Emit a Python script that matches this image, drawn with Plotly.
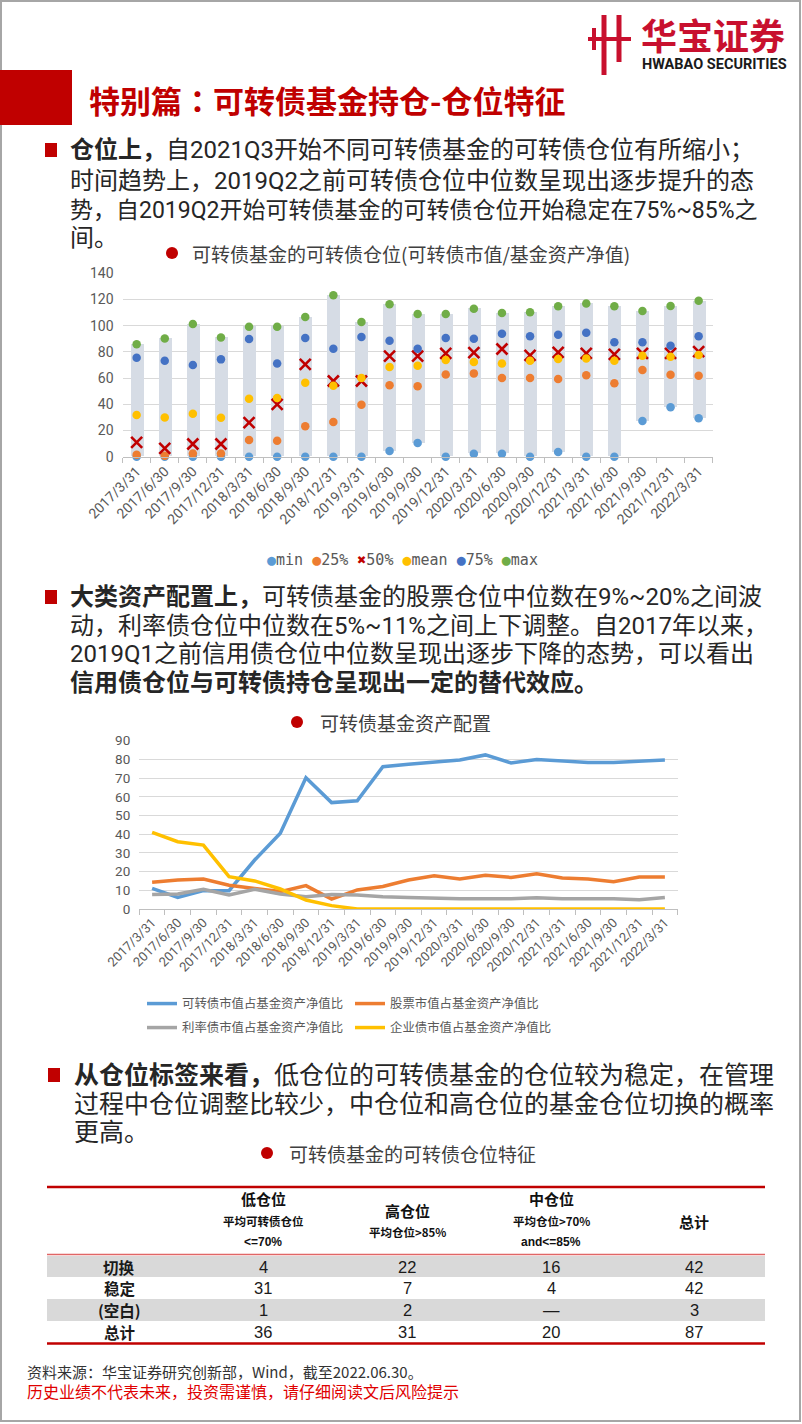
import plotly.graph_objects as go

W, H = 802, 1424
def fx(x): return x / W
def fy(y): return 1 - y / H

# ---------------- data ----------------
dates = ['2017/3/31', '2017/6/30', '2017/9/30', '2017/12/31', '2018/3/31', '2018/6/30',
         '2018/9/30', '2018/12/31', '2019/3/31', '2019/6/30', '2019/9/30', '2019/12/31',
         '2020/3/31', '2020/6/30', '2020/9/30', '2020/12/31', '2021/3/31', '2021/6/30',
         '2021/9/30', '2021/12/31', '2022/3/31']

pos_min = [0, 0, 0, 0, 0, 0, 0, 0, 0, 4.3, 10.4, 0, 2.3, 2.3, 0, 3.6, 0, 0, 27.2, 37.7, 29.3]
pos_p25 = [1.5, 0.8, 2.5, 2.5, 12.7, 12.2, 23.2, 26.5, 39.7, 54.5, 53.7, 62.8, 63.6, 60, 60, 59.3, 62.1, 56, 66.2, 62.6, 61.8]
pos_p50 = [10.9, 6.4, 9.7, 9.7, 26, 40, 70.5, 57.8, 57.8, 76.8, 76.8, 78.9, 79.4, 82.2, 77.4, 79.6, 78.9, 78.1, 78.9, 78.9, 80.2]
pos_mean = [31.8, 30, 32.8, 29.8, 44.3, 44.8, 56.5, 54.2, 60, 68.4, 69.5, 73.8, 72.3, 71.2, 73.3, 74.6, 75, 73.3, 77.1, 76.3, 77.6]
pos_p75 = [75.6, 73.3, 70, 74.3, 89.8, 71.2, 90.6, 82.4, 91.3, 88.5, 82.4, 90.6, 90, 93.9, 91.9, 93.1, 94.7, 87.3, 87.3, 84.7, 91.9]
pos_max = [85.8, 90.3, 101.3, 91, 99.2, 99.2, 106.6, 123.2, 102.8, 116.3, 108.9, 108.9, 113, 109.7, 110.2, 114.8, 117, 114.8, 111.2, 115, 119]

cb_ratio = [11, 6.2, 9.8, 9.8, 26.2, 40.5, 70.2, 56.9, 57.9, 76.1, 77.4, 78.4, 79.7, 82.4, 78.1, 80, 79, 78.4, 78.4, 79.1, 79.7]
stock_ratio = [14.3, 15.5, 16, 12.7, 11, 9.3, 12.5, 5.3, 10.2, 12, 15.5, 17.8, 16, 18, 16.9, 18.9, 16.6, 16, 14.6, 17.1, 17.1]
rate_ratio = [7.7, 8, 10.5, 7.5, 10.5, 8, 6.6, 7.8, 7.5, 6.6, 6.2, 5.7, 5.5, 5.5, 5.5, 6, 5.5, 5.5, 5.5, 5, 6.2]
corp_ratio = [41, 36, 34.2, 17.3, 15, 10.7, 4.8, 1.8, 0, 0, 0, 0, 0, 0, 0, 0, 0, 0, 0, 0, 0]

tbl_rows = ['切换', '稳定', '(空白)', '总计']
tbl_low = [4, 31, 1, 36]
tbl_high = [22, 7, 2, 31]
tbl_mid = [16, 4, '—', 20]
tbl_total = [42, 42, 3, 87]
tbl_head = ['', '低仓位', '高仓位', '中仓位', '总计']
tbl_sub1 = ['', '平均可转债仓位', '平均仓位&gt;85%', '平均仓位&gt;70%', '']
tbl_sub2 = ['', '&lt;=70%', '', 'and&lt;=85%', '']

# ---------------- styles ----------------
RED = '#c00000'
TXT = '#262626'
AX = '#595959'
CJK = 'Noto Sans CJK SC'
PARA = 'Roboto, Noto Sans CJK SC'

fig = go.Figure()

# ---------- chart 1 ----------
fig.add_trace(go.Bar(x=dates, y=[b - a for a, b in zip(pos_min, pos_max)], base=pos_min,
                     width=0.46, marker=dict(color='#d6dce5', line=dict(width=0)),
                     showlegend=False, hoverinfo='skip', xaxis='x', yaxis='y'))
series1 = [('min', pos_min, '#5b9bd5'), ('25%', pos_p25, '#ed7d31'), ('50%', pos_p50, RED),
           ('mean', pos_mean, '#ffc000'), ('75%', pos_p75, '#4472c4'), ('max', pos_max, '#70ad47')]
for name, vals, col in series1:
    if name == '50%':
        mk = dict(symbol='x-thin-open', size=11, color=col, line=dict(color=col, width=2.6))
    else:
        mk = dict(symbol='circle', size=8.5, color=col, line=dict(width=0))
    fig.add_trace(go.Scatter(x=dates, y=vals, mode='markers', marker=mk, name=name,
                             showlegend=False, cliponaxis=False, xaxis='x', yaxis='y'))

# ---------- chart 2 ----------
series2 = [('可转债市值占基金资产净值比', cb_ratio, '#5b9bd5', 'legend2'),
           ('股票市值占基金资产净值比', stock_ratio, '#ed7d31', 'legend2'),
           ('利率债市值占基金资产净值比', rate_ratio, '#a5a5a5', 'legend3'),
           ('企业债市值占基金资产净值比', corp_ratio, '#ffc000', 'legend3')]
for name, vals, col, lg in series2:
    fig.add_trace(go.Scatter(x=dates, y=vals, mode='lines', name=name,
                             line=dict(color=col, width=3.5), legend=lg,
                             cliponaxis=False, xaxis='x2', yaxis='y2'))

# ---------------- annotations ----------------
ann = []
def text(x, y, s, size, color=TXT, family=CJK, xanchor='left', bold=False, align=None):
    ann.append(dict(x=fx(x), y=fy(y), xref='paper', yref='paper', text=s, showarrow=False,
                    xanchor=xanchor, yanchor='middle', align=align or (xanchor if xanchor != 'auto' else 'center'),
                    font=dict(size=size, color=color, family=family, weight='bold' if bold else 'normal')))

# header
text(87, 99, '特别篇<span style="font-family:Noto Sans CJK JP">：</span>可转债基金持仓-仓位特征', 31, color=RED, bold=True)
text(639, 34.5, '华宝证券', 36, color='#c8102e', bold=True)
text(640, 65, 'HWABAO SECURITIES', 14.5, color='#1a1a1a', family='Roboto', bold=True)

# paragraphs
p1 = ['<b>仓位上，</b>自2021Q3开始不同可转债基金的可转债仓位有所缩小；',
      '时间趋势上，2019Q2之前可转债仓位中位数呈现出逐步提升的态',
      '势，自2019Q2开始可转债基金的可转债仓位开始稳定在75%~85%之',
      '间。']
for s, y, sz in zip(p1, [150, 181, 210, 238], [24, 24, 23, 24]):
    text(68, y, s, sz, family=PARA)
p2 = ['<b>大类资产配置上，</b>可转债基金的股票仓位中位数在9%~20%之间波',
      '动，利率债仓位中位数在5%~11%之间上下调整。自2017年以来，',
      '2019Q1之前信用债仓位中位数呈现出逐步下降的态势，可以看出',
      '<b>信用债仓位与可转债持仓呈现出一定的替代效应。</b>']
for s, y in zip(p2, [597, 626, 654, 683]):
    text(68, y, s, 24, family=PARA)
p3 = ['<b>从仓位标签来看，</b>低仓位的可转债基金的仓位较为稳定，在管理',
      '过程中仓位调整比较少，中仓位和高仓位的基金仓位切换的概率',
      '更高。']
for s, y in zip(p3, [1075, 1104, 1132]):
    text(72, y, s, 25, family=PARA)

# chart titles
text(190, 253, '可转债基金的可转债仓位(可转债市值/基金资产净值)', 19, color='#404040')
text(318, 722, '可转债基金资产配置', 19, color='#404040')
text(287, 1153, '可转债基金的可转债仓位特征', 19, color='#404040')

# chart 1 legend
marks = {'50%': '✖'}
leg_parts = []
for name, vals, col in series1:
    leg_parts.append("<span style='color:%s'>%s</span>%s" % (col, marks.get(name, '●'), name))
text(403, 560, ' '.join(leg_parts), 15, color=AX, family='DejaVu Sans Mono', xanchor='center')

# table header
cols_x = [119, 263, 407, 551, 694]
for cx, h, s1, s2 in zip(cols_x, tbl_head, tbl_sub1, tbl_sub2):
    if not h:
        continue
    if s2:
        ys = [1198, 1221, 1242]
    elif s1:
        ys = [1210, 1232]
    else:
        ys = [1221]
    text(cx, ys[0], h, 15, color='#111', xanchor='center', bold=True)
    if s1:
        text(cx, ys[1], s1, 11.5, color='#111', xanchor='center', bold=True)
    if s2:
        text(cx, ys[2], s2, 12, color='#111', family='Liberation Sans', xanchor='center', bold=True)

# table body
row_y = [1266.5, 1288, 1310, 1331.5]
columns = [tbl_rows, tbl_low, tbl_high, tbl_mid, tbl_total]
for ci, (cx, colvals) in enumerate(zip(cols_x, columns)):
    for ry, v in zip(row_y, colvals):
        if ci == 0:
            text(cx, ry, str(v), 15.5, color='#1a1a1a', xanchor='center', bold=True)
        else:
            text(cx, ry, str(v), 16.5, color='#1a1a1a', family='Liberation Sans', xanchor='center')

# footer (two lines in one text block)
text(25, 1381.5, '资料来源：华宝证券研究创新部，Wind，截至2022.06.30。<br>'
     '<span style="color:#e00000;font-size:16px">历史业绩不代表未来，投资需谨慎，请仔细阅读文后风险提示</span>',
     15, color='#333333', align='left')

# ---------------- shapes ----------------
shapes = []
def rect(x0, y0, x1, y1, fill=None, line=None, lw=0, layer='above'):
    shapes.append(dict(type='rect', xref='paper', yref='paper', x0=fx(x0), x1=fx(x1), y0=fy(y0), y1=fy(y1),
                       fillcolor=fill, line=dict(color=line or 'rgba(0,0,0,0)', width=lw), layer=layer))
def line(x0, y0, x1, y1, color, w):
    shapes.append(dict(type='line', xref='paper', yref='paper', x0=fx(x0), x1=fx(x1), y0=fy(y0), y1=fy(y1),
                       line=dict(color=color, width=w), layer='above'))
def dot(cx, cy, r, color):
    shapes.append(dict(type='circle', xref='paper', yref='paper', x0=fx(cx - r), x1=fx(cx + r),
                       y0=fy(cy + r), y1=fy(cy - r), fillcolor=color, line=dict(width=0), layer='above'))

# page border
rect(1, 1, 800, 1421, fill='rgba(0,0,0,0)', line='#a6a6a6', lw=2)
# title bar
rect(0, 70, 72, 125, fill=RED)
# logo icon
lc = '#c8102e'
line(604, 15, 604, 75, lc, 5)
line(619, 15, 619, 62, lc, 5)
line(588, 39, 631, 39, lc, 4)
line(594, 28, 594, 50, lc, 4)
# bullets
rect(45, 143, 57, 157, fill=RED)
rect(45, 590, 57, 604, fill=RED)
rect(48, 1068, 60, 1082, fill=RED)
# title dots
dot(172, 253, 6, RED)
dot(297, 722, 6, RED)
dot(267, 1153, 6, RED)
# table row shading and lines
rect(47, 1256, 765, 1277, fill='#d9d9d9', layer='below')
rect(47, 1299, 765, 1321, fill='#d9d9d9', layer='below')
line(47, 1187, 765, 1187, '#c00000', 2.5)
line(47, 1254.5, 765, 1254.5, '#e06666', 1.5)
line(47, 1343.5, 765, 1343.5, '#c00000', 2.5)

# ---------------- layout ----------------
fig.update_layout(
    width=W, height=H, margin=dict(l=0, r=0, t=0, b=0), template='none',
    paper_bgcolor='white', plot_bgcolor='rgba(0,0,0,0)',
    font=dict(family=CJK, color=TXT),
    showlegend=True, bargap=0,
    xaxis=dict(domain=[fx(122.6), fx(712.7)], anchor='y', type='category', range=[-0.5, 20.5],
               tickangle=-45, tickfont=dict(size=14, color=AX, family='Roboto'),
               showline=True, linecolor='#bfbfbf', linewidth=1, ticks='outside', tickson='boundaries',
               ticklen=5, tickcolor='#bfbfbf', showgrid=False, zeroline=False, automargin=False),
    yaxis=dict(domain=[fy(456.7), fy(273.3)], anchor='x', range=[0, 140], dtick=20,
               tickfont=dict(size=14, color=AX, family='Roboto'), showgrid=True, gridcolor='#d9d9d9',
               gridwidth=1, zeroline=False, showline=False, ticks='', ticklabelstandoff=8, automargin=False),
    xaxis2=dict(domain=[fx(139.3), fx(677.7)], anchor='y2', type='category', range=[-0.5, 20.5],
                tickangle=-45, tickfont=dict(size=13, color=AX, family='Roboto'),
                showline=True, linecolor='#bfbfbf', linewidth=1, ticks='outside', tickson='boundaries',
                ticklen=5, tickcolor='#bfbfbf', showgrid=False, zeroline=False, automargin=False),
    yaxis2=dict(domain=[fy(909), fy(740.7)], anchor='x2', range=[0, 90], dtick=10,
                tickfont=dict(size=13.5, color=AX, family='Roboto'), showgrid=True, gridcolor='#d9d9d9',
                gridwidth=1, zeroline=False, showline=False, ticks='', ticklabelstandoff=8, automargin=False),
    legend2=dict(orientation='h', x=fx(142), y=fy(1004), xanchor='left', yanchor='middle',
                 font=dict(size=12.4, color=AX, family=CJK), entrywidth=163, itemwidth=30,
                 bgcolor='rgba(0,0,0,0)', borderwidth=0),
    legend3=dict(orientation='h', x=fx(142), y=fy(1028), xanchor='left', yanchor='middle',
                 font=dict(size=12.4, color=AX, family=CJK), entrywidth=163, itemwidth=30,
                 bgcolor='rgba(0,0,0,0)', borderwidth=0),
    annotations=ann, shapes=shapes,
)

fig.write_html('out.html', config={'displayModeBar': False},
               post_script="document.body.style.margin='0px';document.body.style.overflow='hidden';")
